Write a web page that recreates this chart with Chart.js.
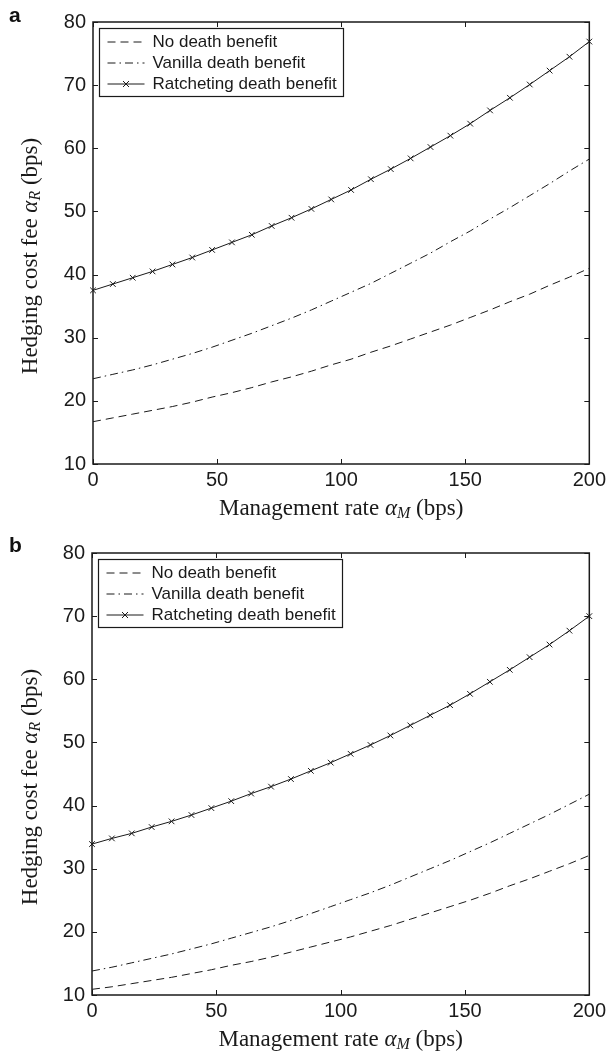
<!DOCTYPE html>
<html>
<head>
<meta charset="utf-8">
<script src="https://cdn.jsdelivr.net/npm/chart.js@4.4.1/dist/chart.umd.min.js"></script>
<style>
  body { margin: 0; background: #fff; }
  #page { position: relative; width: 610px; height: 1056px; background: #fff; }
  .panel { position: absolute; left: 0; width: 610px; height: 528px; }
  .letter { position: absolute; left: 9px; font: bold 21px "Liberation Sans", Arial, sans-serif; color: #111; }
</style>
</head>
<body>
<div id="page">
  <div class="panel" style="top:0"><canvas id="chartA" width="610" height="528"></canvas></div>
  <div class="panel" style="top:528px"><canvas id="chartB" width="610" height="528"></canvas></div>
  <div class="letter" style="top:3px">a</div>
  <div class="letter" style="top:533px">b</div>
</div>
<script>
// eixo x: taxa de gestao (bps)
const mgmtRate = [0, 8, 16, 24, 32, 40, 48, 56, 64, 72, 80, 88, 96, 104, 112, 120, 128, 136, 144, 152, 160, 168, 176, 184, 192, 200];

// painel a
const noDeathA  = [16.7, 17.3, 17.9, 18.5, 19.1, 19.8, 20.6, 21.3, 22.1, 23.0, 23.8, 24.7, 25.7, 26.6, 27.7, 28.7, 29.8, 30.9, 32.0, 33.2, 34.4, 35.7, 36.9, 38.3, 39.6, 41.0];
const vanillaA  = [23.5, 24.2, 24.9, 25.7, 26.6, 27.5, 28.5, 29.6, 30.7, 31.9, 33.1, 34.4, 35.8, 37.2, 38.6, 40.2, 41.8, 43.4, 45.2, 46.9, 48.8, 50.6, 52.5, 54.4, 56.4, 58.3];
const ratchetA  = [37.5, 38.5, 39.5, 40.5, 41.6, 42.7, 43.9, 45.1, 46.3, 47.7, 49.0, 50.4, 51.9, 53.4, 55.1, 56.7, 58.4, 60.2, 62.0, 63.9, 66.0, 68.0, 70.1, 72.3, 74.5, 76.9];

// painel b
const noDeathB  = [10.9, 11.3, 11.8, 12.3, 12.8, 13.4, 14.0, 14.7, 15.3, 16.0, 16.8, 17.6, 18.4, 19.2, 20.1, 21.0, 22.0, 23.0, 24.0, 25.0, 26.1, 27.3, 28.4, 29.6, 30.8, 32.1];
const vanillaB  = [13.8, 14.4, 15.1, 15.8, 16.5, 17.3, 18.1, 19.0, 19.9, 20.8, 21.8, 22.9, 24.0, 25.1, 26.2, 27.4, 28.7, 30.0, 31.3, 32.7, 34.1, 35.6, 37.1, 38.6, 40.2, 41.8];
const ratchetB  = [33.9, 34.8, 35.6, 36.6, 37.5, 38.5, 39.6, 40.7, 41.9, 43.0, 44.2, 45.5, 46.8, 48.2, 49.6, 51.1, 52.7, 54.3, 55.9, 57.7, 59.6, 61.5, 63.5, 65.5, 67.7, 70.0];

const seriesLabels = ['No death benefit', 'Vanilla death benefit', 'Ratcheting death benefit'];
const xTicks = [0, 50, 100, 150, 200];
const yTicks = [10, 20, 30, 40, 50, 60, 70, 80];

const INK = '#1a1a1a';
const SANS = '"Liberation Sans", Arial, sans-serif';
const SERIF = '"Liberation Serif", "Times New Roman", serif';

function pontos(ys) {
    return mgmtRate.map((x, i) => ({ x, y: ys[i] }));
}

// desenha texto com simbolo grego e subscrito, retorna largura
function textoMath(ctx, partes, x, y, medir) {
    let w = 0;
    partes.forEach(p => {
        ctx.font = p.font;
        const dy = p.sub ? 5 : 0;
        if (!medir) ctx.fillText(p.t, x + w, y + dy);
        w += ctx.measureText(p.t).width;
    });
    return w;
}

function partesTitulo(base, sub) {
    return [
        { t: base, font: `23px ${SERIF}` },
        { t: 'α', font: `italic 23px ${SERIF}` },
        { t: sub, font: `italic 16px ${SERIF}`, sub: true },
        { t: ' (bps)', font: `23px ${SERIF}` }
    ];
}

// caixa, ticks internos, legenda e titulos
const moldura = {
    id: 'moldura',
    afterDraw(chart) {
        const { ctx, chartArea: a, scales: { x, y } } = chart;
        ctx.save();
        ctx.strokeStyle = INK;
        ctx.setLineDash([]);

        ctx.lineWidth = 1;
        ctx.beginPath();
        xTicks.forEach(v => {
            const px = Math.round(x.getPixelForValue(v)) + 0.5;
            ctx.moveTo(px, a.bottom); ctx.lineTo(px, a.bottom - 5);
            ctx.moveTo(px, a.top); ctx.lineTo(px, a.top + 5);
        });
        yTicks.forEach(v => {
            const py = Math.round(y.getPixelForValue(v)) + 0.5;
            ctx.moveTo(a.left, py); ctx.lineTo(a.left + 5, py);
            ctx.moveTo(a.right, py); ctx.lineTo(a.right - 5, py);
        });
        ctx.stroke();

        ctx.lineWidth = 1.5;
        ctx.strokeRect(a.left, a.top, a.width, a.height);

        // legenda
        const bx = a.left + 6.5, by = a.top + 6.5, bw = 244, bh = 68;
        ctx.fillStyle = '#fff';
        ctx.fillRect(bx, by, bw, bh);
        ctx.lineWidth = 1.2;
        ctx.strokeRect(bx, by, bw, bh);
        chart.data.datasets.forEach((ds, i) => {
            const ly = by + 13.5 + i * 21;
            ctx.lineWidth = 1;
            ctx.setLineDash(ds.borderDash || []);
            ctx.beginPath();
            ctx.moveTo(bx + 8, ly); ctx.lineTo(bx + 45, ly);
            ctx.stroke();
            ctx.setLineDash([]);
            if (ds.pointRadius > 0) {
                const cx = bx + 26.5, r = 3;
                ctx.beginPath();
                ctx.moveTo(cx - r, ly - r); ctx.lineTo(cx + r, ly + r);
                ctx.moveTo(cx - r, ly + r); ctx.lineTo(cx + r, ly - r);
                ctx.stroke();
            }
            ctx.fillStyle = INK;
            ctx.font = `17px ${SANS}`;
            ctx.textBaseline = 'middle';
            ctx.fillText(ds.label, bx + 53, ly);
        });

        // titulos dos eixos
        ctx.fillStyle = INK;
        ctx.textBaseline = 'middle';
        const px = partesTitulo('Management rate ', 'M');
        const wx = textoMath(ctx, px, 0, 0, true);
        textoMath(ctx, px, (a.left + a.right) / 2 - wx / 2, a.bottom + 45, false);

        const py = partesTitulo('Hedging cost fee ', 'R');
        const wy = textoMath(ctx, py, 0, 0, true);
        ctx.translate(31, (a.top + a.bottom) / 2 + 13);
        ctx.rotate(-Math.PI / 2);
        textoMath(ctx, py, -wy / 2, 0, false);
        ctx.restore();
    }
};

function criarGrafico(id, series, esquerda, topo, alturaX) {
    const estilos = [
        { borderDash: [8, 5], pointRadius: 0 },
        { borderDash: [8, 4, 1.5, 4], pointRadius: 0 },
        { borderDash: [], pointRadius: 4 }
    ];
    return new Chart(document.getElementById(id), {
        type: 'line',
        data: {
            datasets: series.map((s, i) => ({
                label: seriesLabels[i],
                data: pontos(s),
                borderColor: INK,
                borderWidth: 1,
                borderDash: estilos[i].borderDash,
                pointRadius: estilos[i].pointRadius,
                pointStyle: 'crossRot',
                pointBorderColor: INK,
                pointBorderWidth: 1,
                pointHoverRadius: estilos[i].pointRadius,
                tension: 0,
                clip: i === 2 ? false : 3
            }))
        },
        options: {
            responsive: false,
            animation: false,
            events: [],
            layout: { padding: { top: topo, right: 20, left: 0, bottom: 0 } },
            plugins: { legend: { display: false }, tooltip: { enabled: false } },
            scales: {
                x: {
                    type: 'linear', min: 0, max: 200,
                    afterBuildTicks: s => { s.ticks = xTicks.map(v => ({ value: v })); },
                    afterFit: s => { s.height = alturaX; },
                    grid: { display: false, drawTicks: false },
                    border: { display: false },
                    ticks: { color: INK, padding: 4, maxRotation: 0, font: { family: SANS, size: 20 } }
                },
                y: {
                    type: 'linear', min: 10, max: 80,
                    afterBuildTicks: s => { s.ticks = yTicks.map(v => ({ value: v })); },
                    afterFit: s => { s.width = esquerda; },
                    grid: { display: false, drawTicks: false },
                    border: { display: false },
                    ticks: { color: INK, padding: 7, font: { family: SANS, size: 20 } }
                }
            }
        },
        plugins: [moldura]
    });
}

document.addEventListener('DOMContentLoaded', () => {
    criarGrafico('chartA', [noDeathA, vanillaA, ratchetA], 93, 22, 64);
    criarGrafico('chartB', [noDeathB, vanillaB, ratchetB], 92, 25, 61);
});
</script>
</body>
</html>
